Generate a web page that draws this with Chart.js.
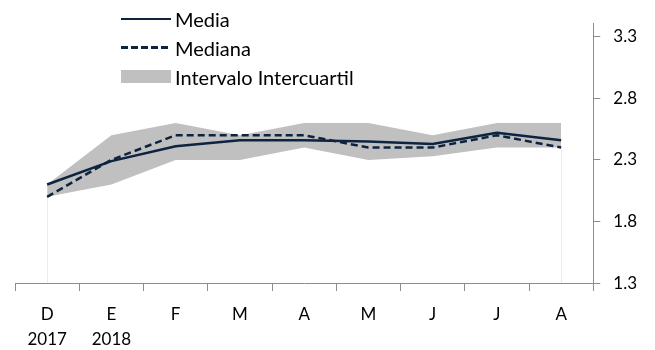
<!DOCTYPE html>
<html>
<head>
<meta charset="utf-8">
<script src="https://cdn.jsdelivr.net/npm/chart.js@4/dist/chart.umd.min.js"></script>
<style>
  html, body { margin: 0; padding: 0; background: #fff; }
  #wrap { position: relative; width: 655px; height: 350px; }
  .legend { position: absolute; left: 121px; font-family: Lato, "Open Sans", sans-serif; font-size: 20px; color: #000; }
  .legend div { height: 29px; display: flex; align-items: center; }
  .legend span.sw { display: inline-block; width: 50px; margin-right: 4px; }
  .legend span.dash { height: 2.5px; background: repeating-linear-gradient(90deg, #0d2340 0 7px, transparent 7px 10px); }
</style>
</head>
<body>
<div id="wrap">
  <canvas id="chart" width="655" height="350"></canvas>
  <div class="legend" style="top: 4px;">
    <div><span class="sw" style="border-top: 2.5px solid #0d2340;"></span>Media</div>
    <div><span class="sw dash"></span>Mediana</div>
    <div><span class="sw" style="height: 13px; background: #c0c0c0;"></span>Intervalo Intercuartil</div>
  </div>
</div>
<script>
const categories = [["D", "2017"], ["E", "2018"], "F", "M", "A", "M", "J", "J", "A"];
const media = [2.1, 2.29, 2.41, 2.46, 2.46, 2.45, 2.43, 2.52, 2.46];
const mediana = [2.0, 2.3, 2.5, 2.5, 2.5, 2.4, 2.4, 2.5, 2.4];
const q3 = [2.1, 2.5, 2.6, 2.5, 2.6, 2.6, 2.5, 2.6, 2.6];
const q1 = [2.0, 2.1, 2.3, 2.3, 2.4, 2.3, 2.33, 2.4, 2.4];
const yTicks = [1.3, 1.8, 2.3, 2.8, 3.3];

const navy = "#0d2340";
const axisColor = "#8c8c8c";

// faint vertical edges of the band at the first and last month
const bandEdges = {
    id: "bandEdges",
    beforeDatasetsDraw(chart) {
        const { ctx, scales: { x, y } } = chart;
        ctx.save();
        ctx.strokeStyle = "#ececec";
        ctx.lineWidth = 1;
        [0, categories.length - 1].forEach((i) => {
            const px = Math.round(x.getPixelForValue(i)) + 0.5;
            ctx.beginPath();
            ctx.moveTo(px, y.getPixelForValue(q1[i]));
            ctx.lineTo(px, y.bottom);
            ctx.stroke();
        });
        ctx.restore();
    },
};

new Chart(document.getElementById("chart"), {
    type: "line",
    data: {
        labels: categories,
        datasets: [
            {
                label: "Media",
                data: media,
                borderColor: navy,
                borderWidth: 2.5,
                pointRadius: 0,
                fill: false,
                order: 1,
            },
            {
                label: "Mediana",
                data: mediana,
                borderColor: navy,
                borderWidth: 2.5,
                borderDash: [7, 4],
                pointRadius: 0,
                fill: false,
                order: 2,
            },
            {
                label: "Intervalo Intercuartil",
                data: q3,
                borderWidth: 0,
                borderColor: "rgba(0,0,0,0)",
                backgroundColor: "#c0c0c0",
                pointRadius: 0,
                fill: "+1",
                order: 3,
            },
            {
                label: "q1",
                data: q1,
                borderWidth: 0,
                borderColor: "rgba(0,0,0,0)",
                pointRadius: 0,
                fill: false,
                order: 4,
            },
        ],
    },
    options: {
        responsive: false,
        animation: false,
        layout: { padding: { left: 15, top: 5, right: 5, bottom: -13 } },
        plugins: {
            legend: { display: false },
            tooltip: { enabled: false },
        },
        scales: {
            x: {
                offset: true,
                grid: {
                    offset: true,
                    drawOnChartArea: false,
                    drawTicks: true,
                    tickLength: 8,
                    color: axisColor,
                },
                border: { color: axisColor, width: 1 },
                ticks: {
                    color: "#000",
                    font: { family: "Lato", size: 17, lineHeight: 1.47 },
                    maxRotation: 0,
                    autoSkip: false,
                    padding: 11,
                },
            },
            y: {
                position: "right",
                min: 1.3,
                max: 3.41,
                afterBuildTicks(scale) {
                    scale.ticks = yTicks.map((v) => ({ value: v }));
                },
                grid: {
                    drawOnChartArea: false,
                    drawTicks: true,
                    tickLength: 7,
                    color: axisColor,
                },
                border: { color: axisColor, width: 1 },
                ticks: {
                    color: "#000",
                    font: { family: "Lato", size: 17 },
                    padding: 13,
                    callback: (v) => v.toFixed(1),
                },
            },
        },
    },
    plugins: [bandEdges],
});
</script>
</body>
</html>
